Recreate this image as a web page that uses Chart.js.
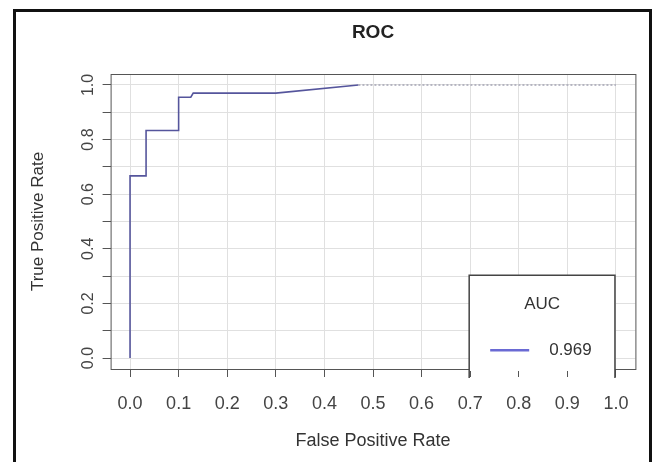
<!DOCTYPE html>
<html>
<head>
<meta charset="utf-8">
<title>ROC</title>
<script src="https://cdn.jsdelivr.net/npm/chart.js@4.4.0/dist/chart.umd.min.js"></script>
<style>
  body { margin: 0; background: #fff; }
  canvas { display: block; }
</style>
</head>
<body>
<canvas id="rocChart" width="655" height="462"></canvas>
<script>
// ROC curve points
const FPR = [0, 0, 0.033, 0.033, 0.1, 0.1, 0.125, 0.13, 0.3, 0.47, 1.0];
const TPR = [0, 0.667, 0.667, 0.833, 0.833, 0.955, 0.955, 0.97, 0.97, 1.0, 1.0];

// axis ticks and their labels
const X_TICKS = [0, 0.1, 0.2, 0.3, 0.4, 0.5, 0.6, 0.7, 0.8, 0.9, 1.0];
const X_LABELS = ['0.0', '0.1', '0.2', '0.3', '0.4', '0.5', '0.6', '0.7', '0.8', '0.9', '1.0'];
const Y_TICKS = [0, 0.1, 0.2, 0.3, 0.4, 0.5, 0.6, 0.7, 0.8, 0.9, 1.0];
const Y_LABELS = ['0.0', '', '0.2', '', '0.4', '', '0.6', '', '0.8', '', '1.0'];

const LEGEND_TITLE = 'AUC';
const AUC_VALUE = '0.969';

const FONT = 'Liberation Sans, Arial, sans-serif';
const CURVE_COLOR = '#55559c';

// outer frame, plot box and the R-style legend
const frameAndLegend = {
    id: 'frameAndLegend',
    beforeDraw(chart) {
        const ctx = chart.ctx;
        ctx.save();
        ctx.fillStyle = '#fff';
        ctx.fillRect(0, 0, chart.width, chart.height);
        ctx.restore();
    },
    afterDraw(chart) {
        const ctx = chart.ctx;
        const a = chart.chartArea;
        const xs = chart.scales.x;
        const ys = chart.scales.y;
        ctx.save();

        // plot box
        ctx.strokeStyle = '#555';
        ctx.lineWidth = 1;
        ctx.strokeRect(a.left + 0.5, a.top + 0.5, a.right - a.left, a.bottom - a.top);

        // legend box (bottom right, over the plot border)
        const lx0 = xs.getPixelForValue(0.7) - 1;
        const lx1 = xs.getPixelForValue(1.0) - 1;
        const ly0 = ys.getPixelForValue(0.3) - 1;
        const ly1 = a.bottom + 9;
        ctx.fillStyle = '#fff';
        ctx.fillRect(lx0, ly0, lx1 - lx0, a.bottom + 2 - ly0);
        ctx.strokeStyle = '#444';
        ctx.lineWidth = 1.5;
        ctx.beginPath();
        ctx.moveTo(lx0, ly1);
        ctx.lineTo(lx0, ly0);
        ctx.lineTo(lx1, ly0);
        ctx.lineTo(lx1, ly1);
        ctx.stroke();

        ctx.fillStyle = '#333';
        ctx.font = '17px ' + FONT;
        ctx.textAlign = 'center';
        ctx.textBaseline = 'middle';
        ctx.fillText(LEGEND_TITLE, (lx0 + lx1) / 2, ly0 + 29);

        const rowY = ly0 + 75;
        ctx.strokeStyle = '#6a6ad4';
        ctx.lineWidth = 2.5;
        ctx.beginPath();
        ctx.moveTo(lx0 + 21, rowY);
        ctx.lineTo(lx0 + 60, rowY);
        ctx.stroke();
        ctx.textAlign = 'left';
        ctx.fillText(AUC_VALUE, lx0 + 80, rowY);

        // outer frame
        ctx.strokeStyle = '#111';
        ctx.lineWidth = 3;
        ctx.strokeRect(14.5, 10.5, 636, 480);
        ctx.restore();
    }
};

const ctx = document.getElementById('rocChart');
new Chart(ctx, {
    type: 'line',
    data: {
        datasets: [{
            label: 'ROC',
            data: FPR.map((x, i) => ({ x: x, y: TPR[i] })),
            borderColor: CURVE_COLOR,
            borderWidth: 1.6,
            pointRadius: 0,
            tension: 0,
            fill: false,
            segment: {
                // flat tail at TPR = 1 looks like a light dotted line
                borderColor: c => c.p0.parsed.y >= 1 ? '#a4a4b4' : undefined,
                borderDash: c => c.p0.parsed.y >= 1 ? [2, 2] : undefined
            }
        }]
    },
    options: {
        responsive: false,
        animation: false,
        layout: {
            padding: { top: 10, left: 15, right: 19.6, bottom: 0 }
        },
        plugins: {
            legend: { display: false },
            tooltip: { enabled: false },
            title: {
                display: true,
                text: 'ROC',
                fullSize: false,
                color: '#222',
                font: { family: FONT, size: 19, weight: 'bold' },
                padding: { top: 11.6, bottom: 29.6 }
            }
        },
        scales: {
            x: {
                type: 'linear',
                min: -0.04,
                max: 1.04,
                afterBuildTicks: scale => {
                    scale.ticks = X_TICKS.map(v => ({ value: v }));
                },
                afterFit: scale => { scale.height = 93; },
                border: { display: false },
                grid: {
                    color: '#e0e0e0',
                    lineWidth: 1,
                    tickLength: 8,
                    tickColor: '#555',
                    tickWidth: 1
                },
                ticks: {
                    autoSkip: false,
                    maxRotation: 0,
                    padding: 16,
                    color: '#444',
                    font: { family: FONT, size: 18 },
                    callback: (v, i) => X_LABELS[i]
                },
                title: {
                    display: true,
                    text: 'False Positive Rate',
                    color: '#333',
                    font: { family: FONT, size: 18 },
                    padding: { top: 0, bottom: 10 }
                }
            },
            y: {
                type: 'linear',
                min: -0.04,
                max: 1.04,
                afterBuildTicks: scale => {
                    scale.ticks = Y_TICKS.map(v => ({ value: v }));
                },
                afterFit: scale => { scale.width = 95.6; },
                border: { display: false },
                grid: {
                    color: '#e0e0e0',
                    lineWidth: 1,
                    tickLength: 8,
                    tickColor: '#555',
                    tickWidth: 1
                },
                ticks: {
                    autoSkip: false,
                    minRotation: 90,
                    maxRotation: 90,
                    crossAlign: 'center',
                    padding: 3,
                    color: '#444',
                    font: { family: FONT, size: 16 },
                    callback: (v, i) => Y_LABELS[i]
                },
                title: {
                    display: true,
                    text: 'True Positive Rate',
                    color: '#333',
                    font: { family: FONT, size: 17 },
                    padding: { top: 13, bottom: 0 }
                }
            }
        }
    },
    plugins: [frameAndLegend]
});
</script>
</body>
</html>
